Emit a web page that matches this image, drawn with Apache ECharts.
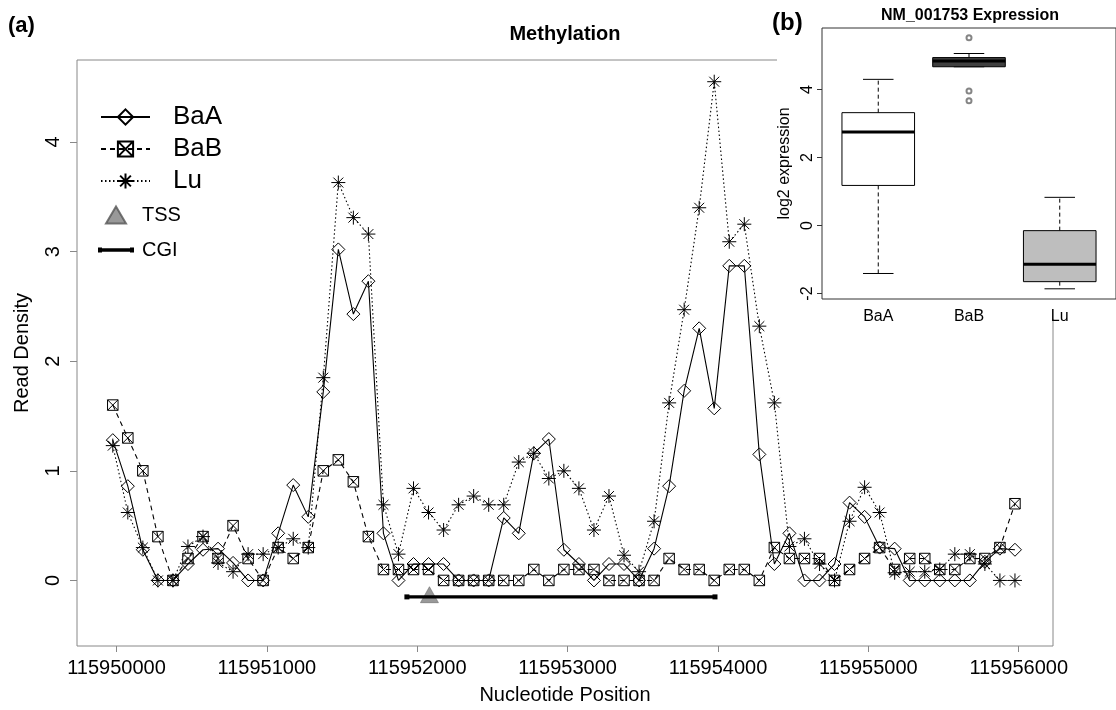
<!DOCTYPE html>
<html>
<head>
<meta charset="utf-8">
<title>Methylation</title>
<script src="https://cdn.jsdelivr.net/npm/echarts@6/dist/echarts.min.js"></script>
<style>
    html, body { margin: 0; padding: 0; background: #fff; }
    #main { width: 1116px; height: 710px; }
</style>
</head>
<body>
<div id="main"></div>
<script>
// read density along the promoter, one value every 100 bp
var positions = [
    115949975, 115950075, 115950175, 115950275, 115950375, 115950475, 115950575, 115950675, 115950775, 115950875,
    115950975, 115951075, 115951175, 115951275, 115951375, 115951475, 115951575, 115951675, 115951775, 115951875,
    115951975, 115952075, 115952175, 115952275, 115952375, 115952475, 115952575, 115952675, 115952775, 115952875,
    115952975, 115953075, 115953175, 115953275, 115953375, 115953475, 115953575, 115953675, 115953775, 115953875,
    115953975, 115954075, 115954175, 115954275, 115954375, 115954475, 115954575, 115954675, 115954775, 115954875,
    115954975, 115955075, 115955175, 115955275, 115955375, 115955475, 115955575, 115955675, 115955775, 115955875,
    115955975
];
var baA = [
    1.28, 0.86, 0.28, 0, 0, 0.15, 0.28, 0.29, 0.16, 0,
    0, 0.43, 0.87, 0.58, 1.72, 3.02, 2.43, 2.73, 0.43, 0,
    0.15, 0.15, 0.15, 0, 0, 0, 0.57, 0.43, 1.16, 1.29,
    0.28, 0.15, 0, 0.15, 0.15, 0, 0.29, 0.86, 1.73, 2.30,
    1.57, 2.87, 2.87, 1.15, 0.15, 0.43, 0, 0, 0.15, 0.71,
    0.58, 0.30, 0.29, 0, 0, 0, 0, 0, 0.17, 0.29,
    0.28
];
var baB = [
    1.60, 1.30, 1.00, 0.40, 0, 0.20, 0.40, 0.20, 0.50, 0.20,
    0, 0.30, 0.20, 0.30, 1.00, 1.10, 0.90, 0.40, 0.10, 0.10,
    0.10, 0.10, 0, 0, 0, 0, 0, 0, 0.10, 0,
    0.10, 0.10, 0.10, 0, 0, 0, 0, 0.20, 0.10, 0.10,
    0, 0.10, 0.10, 0, 0.30, 0.20, 0.20, 0.20, 0, 0.10,
    0.20, 0.30, 0.10, 0.20, 0.20, 0.10, 0.10, 0.20, 0.20, 0.30,
    0.70
];
var lu = [
    1.23, 0.62, 0.30, 0, 0, 0.31, 0.40, 0.16, 0.08, 0.24,
    0.24, 0.30, 0.38, 0.30, 1.85, 3.63, 3.31, 3.16, 0.69, 0.24,
    0.84, 0.62, 0.46, 0.69, 0.77, 0.69, 0.69, 1.08, 1.16, 0.93,
    1.00, 0.84, 0.46, 0.77, 0.23, 0.08, 0.54, 1.62, 2.47, 3.40,
    4.55, 3.09, 3.25, 2.32, 1.62, 0.31, 0.38, 0.15, 0, 0.54,
    0.85, 0.62, 0.07, 0.08, 0.08, 0.10, 0.24, 0.24, 0.15, 0,
    0
];
var tssPos = 115952081;
var tssLevel = -0.13;
var cgiRange = [115951931, 115953980];
var cgiLevel = -0.15;
var xTicks = [115950000, 115951000, 115952000, 115953000, 115954000, 115955000, 115956000];
var yTicks = [0, 1, 2, 3, 4];

// inset: NM_001753 expression (min, Q1, median, Q3, max)
var exprGroups = ['BaA', 'BaB', 'Lu'];
var exprStats = [
    [-1.41, 1.18, 2.75, 3.32, 4.30],
    [4.67, 4.67, 4.84, 4.94, 5.06],
    [-1.86, -1.65, -1.14, -0.15, 0.83]
];
var exprOutliers = [[2, 5.52], [2, 3.96], [2, 3.67]];
var exprTicks = [-2, 0, 2, 4];
var boxFills = ['#ffffff', '#404040', '#bebebe'];

var FONT = "'Liberation Sans', Arial, Helvetica, sans-serif";
var diamondSymbol = 'path://M5,0L10,5L5,10L0,5Z';
var boxXSymbol = 'path://M0,0L10,0L10,10L0,10ZM0,0L10,10M10,0L0,10';
var starSymbol = 'path://M5,0L5,10M0,5L10,5M1.46,1.46L8.54,8.54M8.54,1.46L1.46,8.54';

var pairs = function (values) {
    return positions.map(function (p, i) {
        return [p, values[i]];
    });
};

var renderBox = function (params, api) {
    var x = api.value(0);
    var lo = api.coord([x, api.value(1)]);
    var q1 = api.coord([x, api.value(2)]);
    var md = api.coord([x, api.value(3)]);
    var q3 = api.coord([x, api.value(4)]);
    var hi = api.coord([x, api.value(5)]);
    var half = api.size([0.8, 0])[0] / 2;
    var cap = half * 0.42;
    var cx = lo[0];
    var dash = {stroke: '#000', lineWidth: 1, lineDash: [4, 3]};
    var solid = {stroke: '#000', lineWidth: 1};
    return {
        type: 'group',
        children: [
            {type: 'line', shape: {x1: cx, y1: q3[1], x2: cx, y2: hi[1]}, style: dash},
            {type: 'line', shape: {x1: cx, y1: q1[1], x2: cx, y2: lo[1]}, style: dash},
            {type: 'line', shape: {x1: cx - cap, y1: hi[1], x2: cx + cap, y2: hi[1]}, style: solid},
            {type: 'line', shape: {x1: cx - cap, y1: lo[1], x2: cx + cap, y2: lo[1]}, style: solid},
            {
                type: 'rect',
                shape: {x: cx - half, y: q3[1], width: half * 2, height: q1[1] - q3[1]},
                style: {fill: boxFills[params.dataIndex], stroke: '#000', lineWidth: 1}
            },
            {type: 'line', shape: {x1: cx - half, y1: md[1], x2: cx + half, y2: md[1]}, style: {stroke: '#000', lineWidth: 3}}
        ]
    };
};

var drawChart = function () {
    var box = echarts.init(document.getElementById('main'));
    var option = {
        animation: false,
        backgroundColor: '#fff',
        textStyle: {fontFamily: FONT, color: '#000'},
        title: [
            {
                text: '{n|(}{b|a}{n|)}', left: 8, top: 15, padding: 0,
                textStyle: {rich: {n: {fontSize: 22, fontFamily: FONT}, b: {fontSize: 22, fontWeight: 'bold', fontFamily: FONT}}}
            },
            {
                text: 'Methylation', left: 565, top: 24, padding: 0, textAlign: 'center',
                textStyle: {fontSize: 20, fontWeight: 'bold', fontFamily: FONT, color: '#000'}
            },
            {
                text: '{n|(}{b|b}{n|)}', left: 772, top: 11, padding: 0, z: 10,
                textStyle: {rich: {n: {fontSize: 24, fontFamily: FONT}, b: {fontSize: 24, fontWeight: 'bold', fontFamily: FONT}}}
            },
            {
                text: 'NM_001753 Expression', left: 970, top: 8, padding: 0, textAlign: 'center', z: 10,
                textStyle: {fontSize: 16, fontWeight: 'bold', fontFamily: FONT, color: '#000'}
            }
        ],
        legend: [
            {
                data: ['BaA', 'BaB', 'Lu'],
                orient: 'vertical', left: 100, top: 104, padding: 0,
                itemWidth: 49, itemHeight: 19, itemGap: 6,
                selectedMode: false,
                textStyle: {fontSize: 26, lineHeight: 26, padding: [0, 0, 0, 18], color: '#000', fontFamily: FONT}
            },
            {
                data: [
                    {name: 'TSS', icon: 'path://M10,0L20,17L0,17Z'},
                    {name: 'CGI', icon: 'path://M0,0H4V5H0ZM4,0.8H32V4.2H4ZM32,0H36V5H32Z'}
                ],
                orient: 'vertical', left: 98, top: 205, padding: 0,
                itemWidth: 36, itemHeight: 17, itemGap: 15,
                selectedMode: false,
                textStyle: {fontSize: 20, lineHeight: 20, padding: [0, 0, 0, 3], color: '#000', fontFamily: FONT}
            }
        ],
        graphic: [
            {type: 'rect', shape: {x: 777, y: 0, width: 339, height: 319}, style: {fill: '#fff'}, z: 5}
        ],
        grid: [
            {left: 77, right: 63, top: 60, bottom: 63, show: true, borderColor: '#888', borderWidth: 1},
            {left: 822, top: 28, width: 303, height: 271, show: true, borderColor: '#333', borderWidth: 1, z: 10}
        ],
        xAxis: [
            {
                type: 'value', gridIndex: 0, min: 115949737, max: 115956228,
                name: 'Nucleotide Position', nameLocation: 'middle', nameGap: 39,
                nameTextStyle: {fontSize: 20, color: '#000', fontFamily: FONT},
                axisLine: {show: false, onZero: false},
                axisTick: {show: true, customValues: xTicks, length: 6, lineStyle: {color: '#888'}},
                axisLabel: {
                    customValues: xTicks, fontSize: 20, margin: 12, color: '#000', fontFamily: FONT,
                    formatter: function (v) { return String(v); }
                },
                splitLine: {show: false}
            },
            {
                type: 'value', gridIndex: 1, min: 0.38, max: 3.62, z: 10,
                axisLine: {show: false, onZero: false},
                axisTick: {show: false},
                axisLabel: {
                    customValues: [1, 2, 3], fontSize: 16, margin: 10, color: '#000', fontFamily: FONT,
                    formatter: function (v) { return exprGroups[v - 1]; }
                },
                splitLine: {show: false}
            }
        ],
        yAxis: [
            {
                type: 'value', gridIndex: 0, min: -0.598, max: 4.748,
                name: 'Read Density', nameLocation: 'middle', nameGap: 45,
                nameTextStyle: {fontSize: 20, color: '#000', fontFamily: FONT},
                axisLine: {show: false, onZero: false},
                axisTick: {show: true, customValues: yTicks, length: 7, lineStyle: {color: '#888'}},
                axisLabel: {customValues: yTicks, rotate: 90, fontSize: 20, margin: 14, color: '#000', fontFamily: FONT},
                splitLine: {show: false}
            },
            {
                type: 'value', gridIndex: 1, min: -2.16, max: 5.81, z: 10,
                name: 'log2 expression', nameLocation: 'middle', nameGap: 29,
                nameTextStyle: {fontSize: 16, color: '#000', fontFamily: FONT},
                axisLine: {show: false, onZero: false},
                axisTick: {show: true, customValues: exprTicks, length: 5, lineStyle: {color: '#333'}},
                axisLabel: {customValues: exprTicks, rotate: 90, fontSize: 16, margin: 6, color: '#000', fontFamily: FONT},
                splitLine: {show: false}
            }
        ],
        series: [
            {
                name: 'BaA', type: 'line', data: pairs(baA),
                symbol: diamondSymbol, symbolSize: 13,
                itemStyle: {color: 'transparent', borderColor: '#000', borderWidth: 1},
                lineStyle: {color: '#000', width: 1.1, type: 'solid'},
                emphasis: {disabled: true}
            },
            {
                name: 'BaB', type: 'line', data: pairs(baB),
                symbol: boxXSymbol, symbolSize: 10.5,
                itemStyle: {color: 'transparent', borderColor: '#000', borderWidth: 1},
                lineStyle: {color: '#000', width: 1.1, type: [5, 4]},
                emphasis: {disabled: true}
            },
            {
                name: 'Lu', type: 'line', data: pairs(lu),
                symbol: starSymbol, symbolSize: 14,
                itemStyle: {color: 'transparent', borderColor: '#000', borderWidth: 1},
                lineStyle: {color: '#000', width: 1.1, type: [1.5, 2.5]},
                emphasis: {disabled: true}
            },
            {
                name: 'CGI', type: 'line',
                data: [[cgiRange[0], cgiLevel], [cgiRange[1], cgiLevel]],
                symbol: 'rect', symbolSize: 5,
                itemStyle: {color: '#000'},
                lineStyle: {color: '#000', width: 3.2},
                emphasis: {disabled: true}
            },
            {
                name: 'TSS', type: 'scatter',
                data: [[tssPos, tssLevel]],
                symbol: 'path://M10,0L20,17L0,17Z', symbolSize: [18, 16],
                itemStyle: {color: '#7f7f7f', borderColor: '#555', borderWidth: 0.6},
                emphasis: {disabled: true}
            },
            {
                name: 'expression', type: 'custom', xAxisIndex: 1, yAxisIndex: 1, z: 10,
                data: exprStats.map(function (s, i) { return [i + 1].concat(s); }),
                encode: {x: 0, y: [1, 2, 3, 4, 5]},
                renderItem: renderBox
            },
            {
                name: 'outliers', type: 'scatter', xAxisIndex: 1, yAxisIndex: 1, z: 11,
                data: exprOutliers,
                symbol: 'emptyCircle', symbolSize: 5,
                itemStyle: {color: '#666', borderWidth: 0.8},
                emphasis: {disabled: true}
            }
        ]
    };
    box.setOption(option);
};

drawChart();
</script>
</body>
</html>
